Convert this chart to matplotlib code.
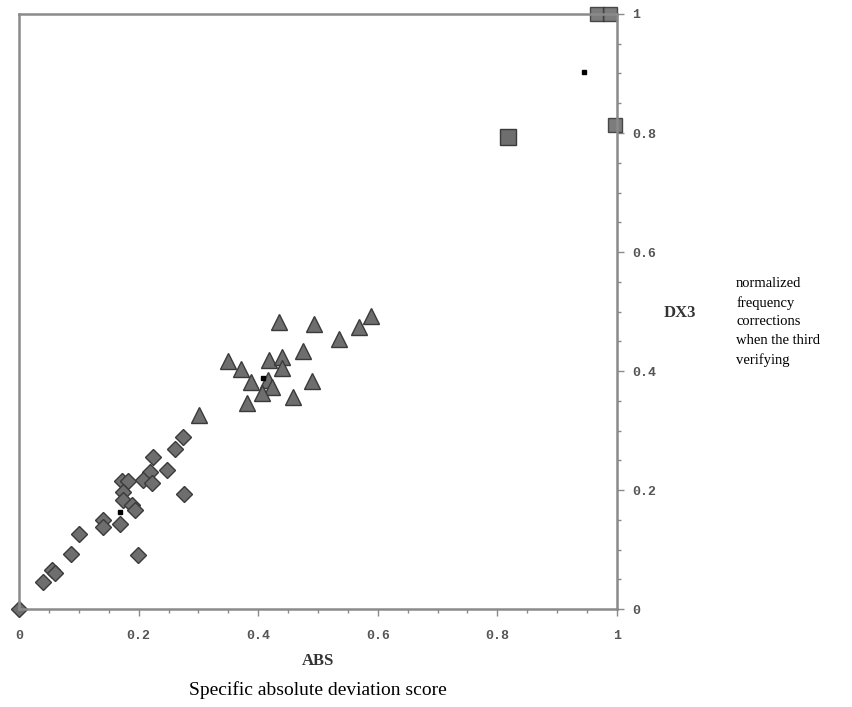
import matplotlib
matplotlib.use('Agg')
import matplotlib.pyplot as plt
from matplotlib.ticker import MultipleLocator, FuncFormatter

# Triangles (middle group)
tri_x = [0.435, 0.493, 0.589, 0.569, 0.535, 0.475, 0.349, 0.371, 0.418, 0.440,
         0.440, 0.388, 0.416, 0.423, 0.406, 0.490, 0.458, 0.381, 0.301]
tri_y = [0.482, 0.479, 0.492, 0.474, 0.454, 0.434, 0.417, 0.403, 0.418, 0.424,
         0.405, 0.382, 0.385, 0.373, 0.363, 0.383, 0.356, 0.346, 0.326]

# Diamonds (low group)
dia_x = [0.274, 0.261, 0.224, 0.247, 0.219, 0.207, 0.222, 0.172, 0.182, 0.174,
         0.174, 0.189, 0.194, 0.276, 0.169, 0.140, 0.140, 0.199, 0.100, 0.087,
         0.055, 0.060, 0.040, 0.0]
dia_y = [0.289, 0.269, 0.255, 0.234, 0.230, 0.217, 0.212, 0.215, 0.215, 0.197,
         0.183, 0.175, 0.166, 0.193, 0.143, 0.150, 0.138, 0.091, 0.126, 0.092,
         0.066, 0.061, 0.045, 0.0]

# Squares (high group)
sq_x = [0.818, 0.997, 0.967, 0.989]
sq_y = [0.793, 0.813, 1.0, 1.0]

# Small black dots
dot_x = [0.408, 0.169, 0.945]
dot_y = [0.388, 0.163, 0.903]

fig = plt.figure(figsize=(8.53, 7.07), dpi=100)
ax = fig.add_axes([0.0223, 0.1386, 0.701, 0.8416])

ax.plot(dia_x, dia_y, 'D', ms=8, mfc='#6e6e6e', mec='#3a3a3a', mew=1, ls='none', clip_on=False)
ax.plot(tri_x, tri_y, '^', ms=12, mfc='#6e6e6e', mec='#3a3a3a', mew=1, ls='none', clip_on=False)
ax.plot(sq_x[:1], sq_y[:1], 's', ms=11, mfc='#6e6e6e', mec='#3a3a3a', mew=1, ls='none', clip_on=False)
ax.plot(sq_x[1:], sq_y[1:], 's', ms=9.5, mfc='#6e6e6e', mec='#3a3a3a', mew=1, alpha=0.9, ls='none', clip_on=False)
ax.plot(dot_x, dot_y, 's', ms=3.5, color='black', ls='none', clip_on=False)

ax.set_xlim(0, 1)
ax.set_ylim(0, 1)

for s in ax.spines.values():
    s.set_color('#8a8a8a')
    s.set_linewidth(1.8)

ax.yaxis.tick_right()
ax.xaxis.set_major_locator(MultipleLocator(0.2))
ax.xaxis.set_minor_locator(MultipleLocator(0.05))
ax.yaxis.set_major_locator(MultipleLocator(0.2))
ax.yaxis.set_minor_locator(MultipleLocator(0.05))
fmt = FuncFormatter(lambda v, p: '0' if abs(v) < 1e-9 else ('1' if abs(v - 1) < 1e-9 else f'{v:.1f}'))
ax.xaxis.set_major_formatter(fmt)
ax.yaxis.set_major_formatter(fmt)
ax.tick_params(which='major', direction='out', length=5, width=1, color='#8a8a8a',
               labelsize=9.5, labelcolor='#555555', pad=6)
ax.tick_params(axis='x', which='major', pad=10)
ax.tick_params(which='minor', direction='out', length=3, width=1, color='#8a8a8a')
for lab in ax.get_xticklabels() + ax.get_yticklabels():
    lab.set_family('Liberation Mono')
    lab.set_fontweight('bold')

ax.set_xlabel('ABS', fontfamily='Liberation Serif', fontweight='bold', fontsize=12,
              color='#333333', labelpad=8)

fig.text(0.778, 0.557, 'DX3', fontfamily='Liberation Serif', fontweight='bold',
         fontsize=12, color='#333333', ha='left', va='center')
fig.text(0.863, 0.608, 'normalized\nfrequency\ncorrections\nwhen the third\nverifying',
         fontfamily='Liberation Serif', fontsize=10.5, color='black', ha='left', va='top',
         linespacing=1.55)
fig.text(0.373, 0.012, 'Specific absolute deviation score', fontfamily='Liberation Serif',
         fontsize=14, color='black', ha='center', va='bottom')

fig.savefig('out.png', dpi=100)
